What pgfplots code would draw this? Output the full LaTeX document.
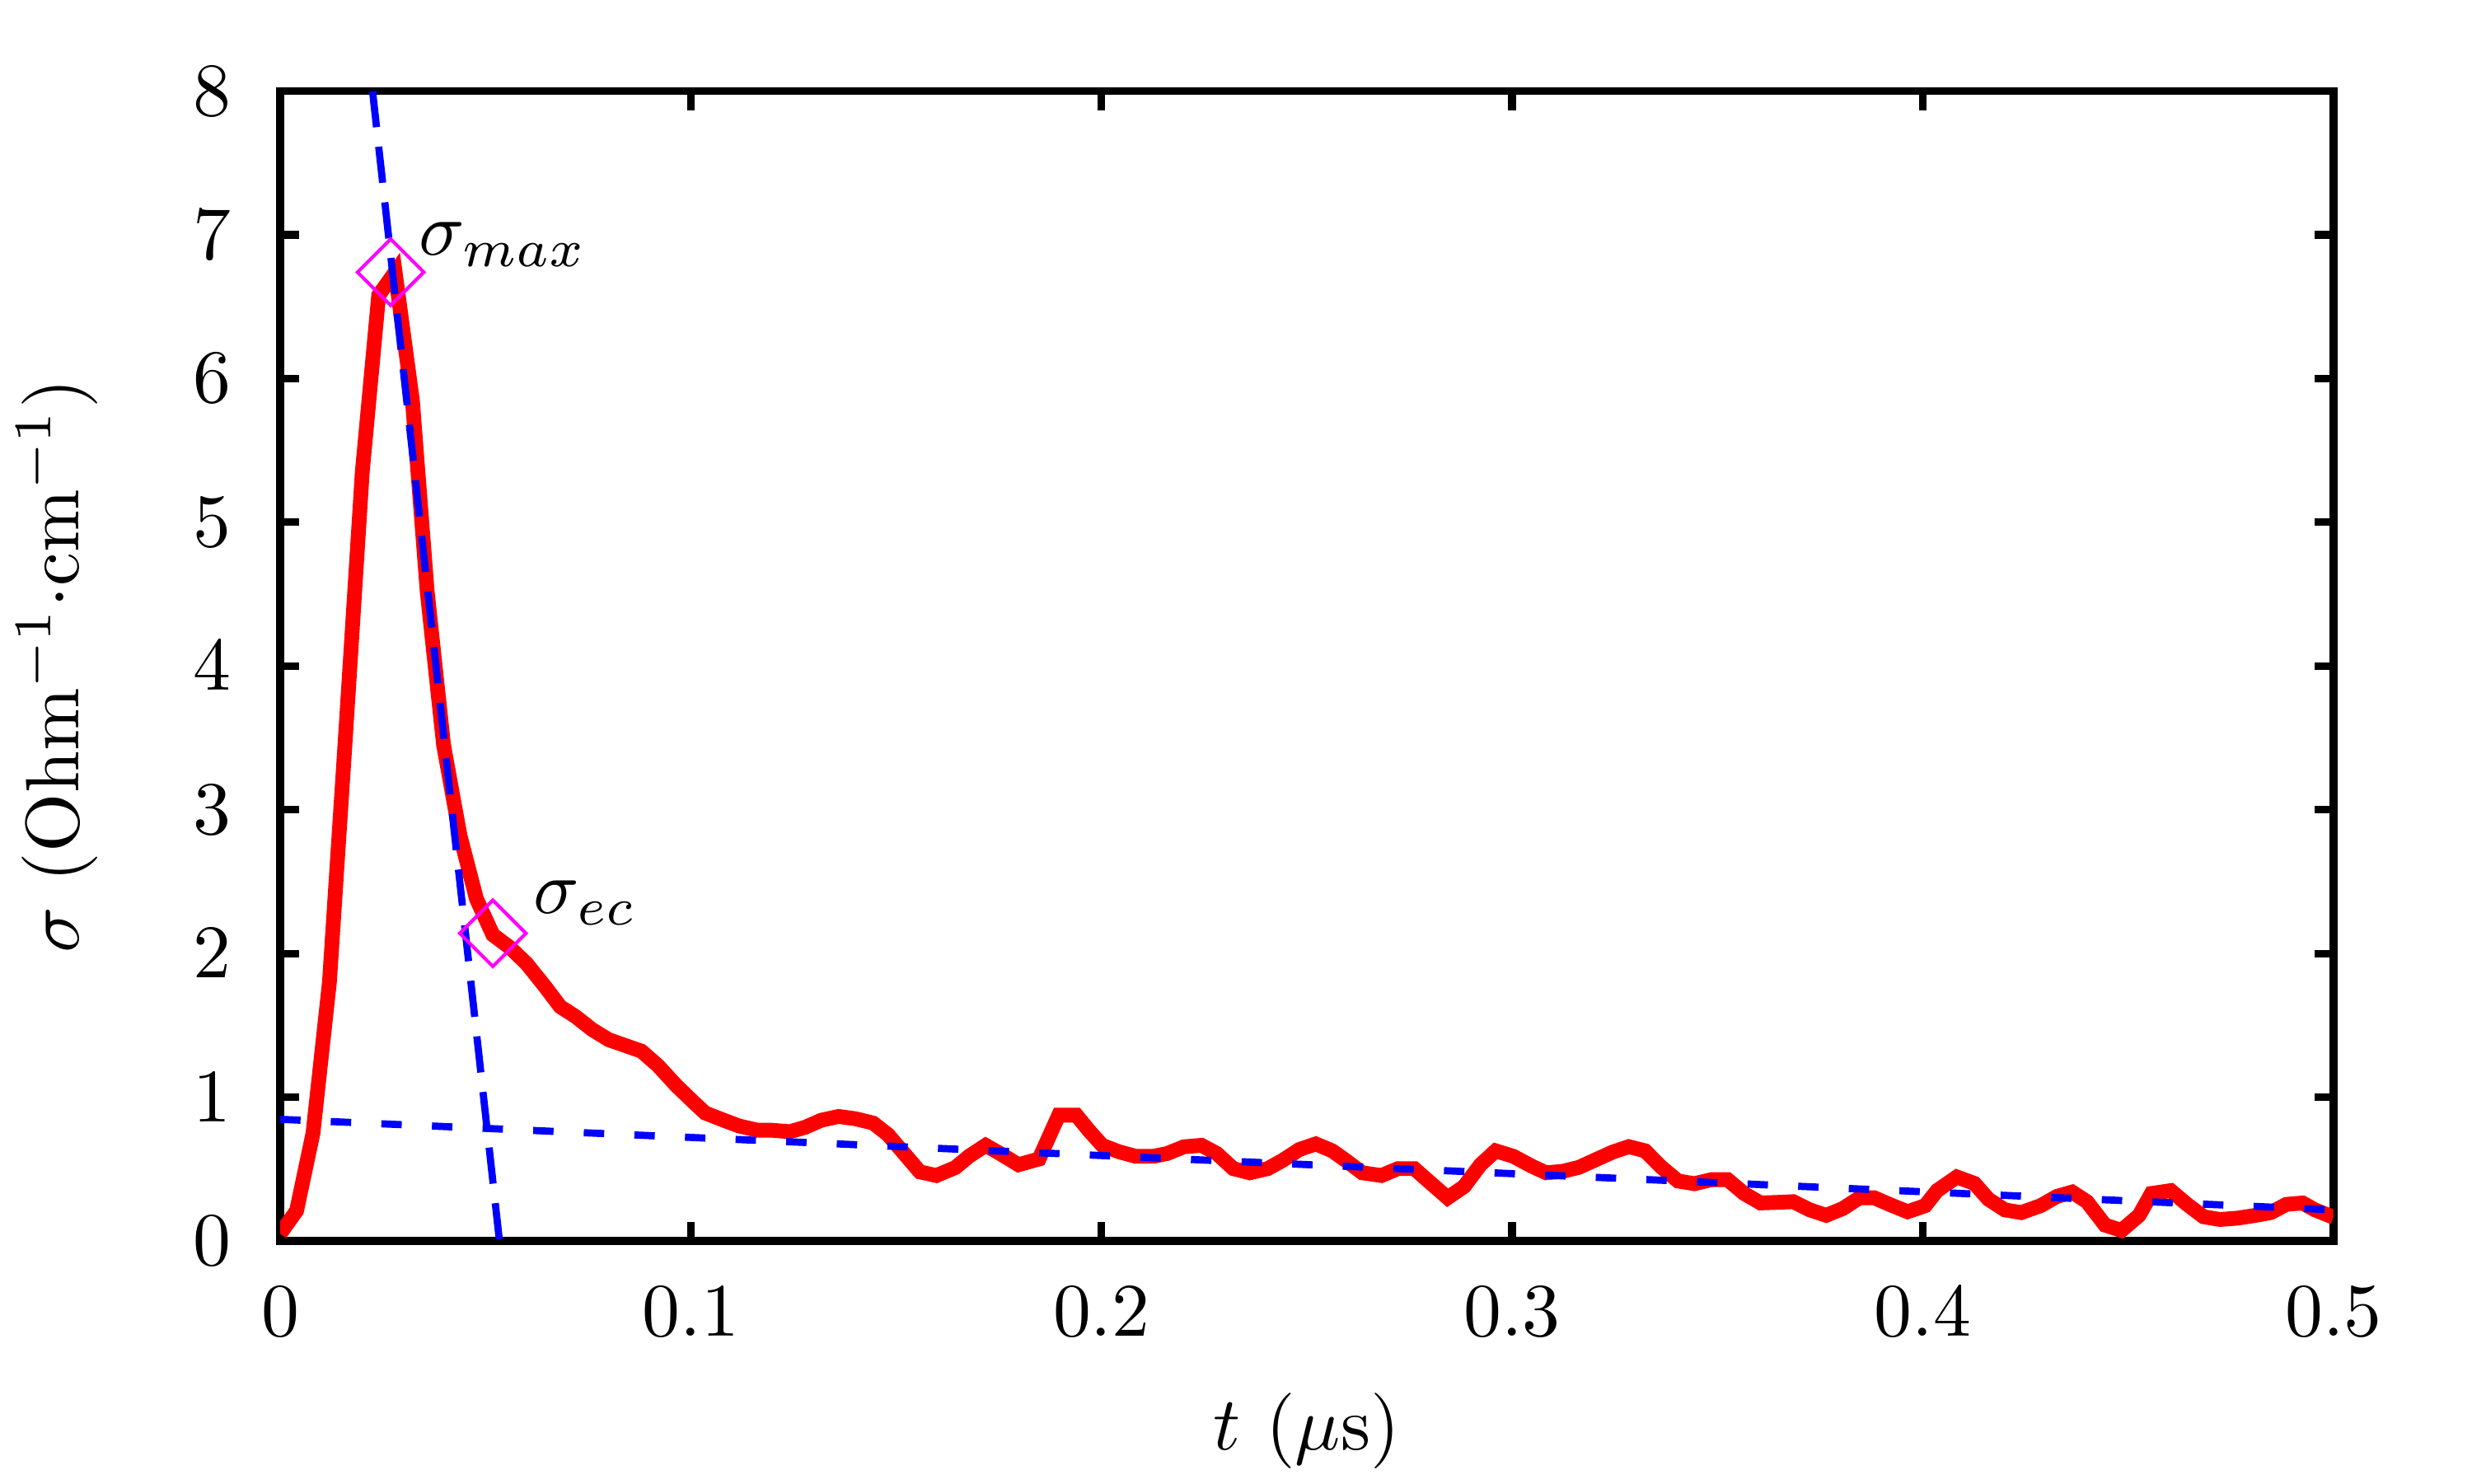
\documentclass[border=0pt]{standalone}
\usepackage{pgfplots}
\pgfplotsset{compat=1.18}
\definecolor{mag}{RGB}{255,0,255}
\definecolor{pred}{RGB}{255,0,0}
\definecolor{pblue}{RGB}{0,0,255}
\begin{document}
\begin{tikzpicture}
\useasboundingbox (-37.06pt,-32.05pt) rectangle (289.94pt,164.15pt);
\begin{axis}[
  at={(0pt,0pt)}, anchor=south west,
  scale only axis, width=271.6pt, height=152.1pt,
  xmin=0, xmax=0.5, ymin=0, ymax=8,
  xtick={0,0.1,0.2,0.3,0.4,0.5}, ytick={0,1,2,3,4,5,6,7,8},
  minor tick num=0,
  axis line style={line width=1.05pt},
  major tick style={line width=1pt, black},
  major tick length=2.5pt,
  tick align=inside,
  xticklabel style={yshift=-2.6pt},
  yticklabel style={xshift=-3pt},
  xlabel={$t$ ($\mu$s)},
  ylabel={$\sigma$ (Ohm$^{-1}{\cdot}$cm$^{-1}$)},
  xlabel style={at={(axis description cs:0.5,-0.182)}, anchor=base},
  ylabel style={at={(axis description cs:-0.0983,0.5)}, anchor=base},
]
\addplot[pred, line width=1.95pt] coordinates {
(0.0000,0.05) (0.0040,0.21) (0.0080,0.75) (0.0120,1.80) (0.0160,3.55)
(0.0200,5.35) (0.0240,6.58) (0.0280,6.74) (0.0322,5.85) (0.0358,4.52)
(0.0398,3.45) (0.0438,2.82) (0.0478,2.38) (0.0518,2.13) (0.0560,2.04)
(0.0600,1.93) (0.0645,1.77) (0.0682,1.63) (0.0720,1.56) (0.0760,1.47)
(0.0800,1.40) (0.0840,1.36) (0.0880,1.32) (0.0920,1.22) (0.0965,1.08)
(0.1005,0.97) (0.1035,0.89) (0.1080,0.84) (0.1117,0.80) (0.1163,0.77)
(0.1197,0.77) (0.1241,0.76) (0.1278,0.79) (0.1318,0.84) (0.1360,0.866)
(0.1401,0.85) (0.1444,0.82) (0.1480,0.74) (0.1510,0.64) (0.1558,0.48)
(0.1598,0.455) (0.1644,0.51) (0.1678,0.59) (0.1718,0.665) (0.1758,0.60)
(0.1798,0.53) (0.1848,0.57) (0.1896,0.875) (0.1939,0.875) (0.1969,0.77)
(0.2002,0.665) (0.2043,0.62) (0.2083,0.589) (0.2127,0.589) (0.2160,0.608)
(0.2201,0.655) (0.2244,0.665) (0.2281,0.608) (0.2321,0.503) (0.2361,0.474)
(0.2405,0.503) (0.2441,0.56) (0.2482,0.636) (0.2522,0.675) (0.2562,0.627)
(0.2595,0.56) (0.2635,0.474) (0.2682,0.455) (0.2722,0.503) (0.2762,0.503)
(0.2796,0.417) (0.2843,0.30) (0.2883,0.378) (0.2923,0.53) (0.2960,0.627)
(0.3003,0.589) (0.3048,0.52) (0.3083,0.474) (0.3123,0.484) (0.3163,0.512)
(0.3200,0.56) (0.3244,0.617) (0.3284,0.656) (0.3324,0.627) (0.3364,0.512)
(0.3404,0.417) (0.3444,0.398) (0.3485,0.426) (0.3525,0.426) (0.3565,0.33)
(0.3605,0.264) (0.3645,0.268) (0.3685,0.273) (0.3725,0.216) (0.3765,0.178)
(0.3806,0.226) (0.3846,0.30) (0.3882,0.30) (0.3919,0.254) (0.3963,0.203)
(0.4006,0.245) (0.4035,0.35) (0.4083,0.445) (0.4126,0.40) (0.4160,0.29)
(0.4200,0.216) (0.4240,0.197) (0.4287,0.245) (0.4327,0.31) (0.4364,0.34)
(0.4400,0.273) (0.4444,0.11) (0.4484,0.073) (0.4527,0.178) (0.4557,0.33)
(0.4604,0.35) (0.4644,0.254) (0.4684,0.168) (0.4724,0.149) (0.4768,0.159)
(0.4811,0.178) (0.4848,0.197) (0.4885,0.254) (0.4925,0.264) (0.4955,0.216)
(0.5000,0.165)
};
\addplot[pblue, line width=0.95pt, dash pattern=on 4.8pt off 2.6pt] coordinates {(0.0225,8) (0.0534,0)};
\addplot[pblue, line width=0.95pt, dash pattern=on 2.7pt off 4pt] coordinates {(0,0.846) (0.5,0.216)};
\addplot[only marks, mark=square, mark size=3.1pt, mark options={rotate=45, draw=mag, line width=0.45pt}] coordinates {(0.0269,6.74) (0.0518,2.14)};
\node[anchor=base west, inner sep=0pt] at (axis cs:0.0335,6.86) {$\sigma_{max}$};
\node[anchor=base west, inner sep=0pt] at (axis cs:0.0614,2.28) {$\sigma_{ec}$};
\end{axis}
\end{tikzpicture}
\end{document}
